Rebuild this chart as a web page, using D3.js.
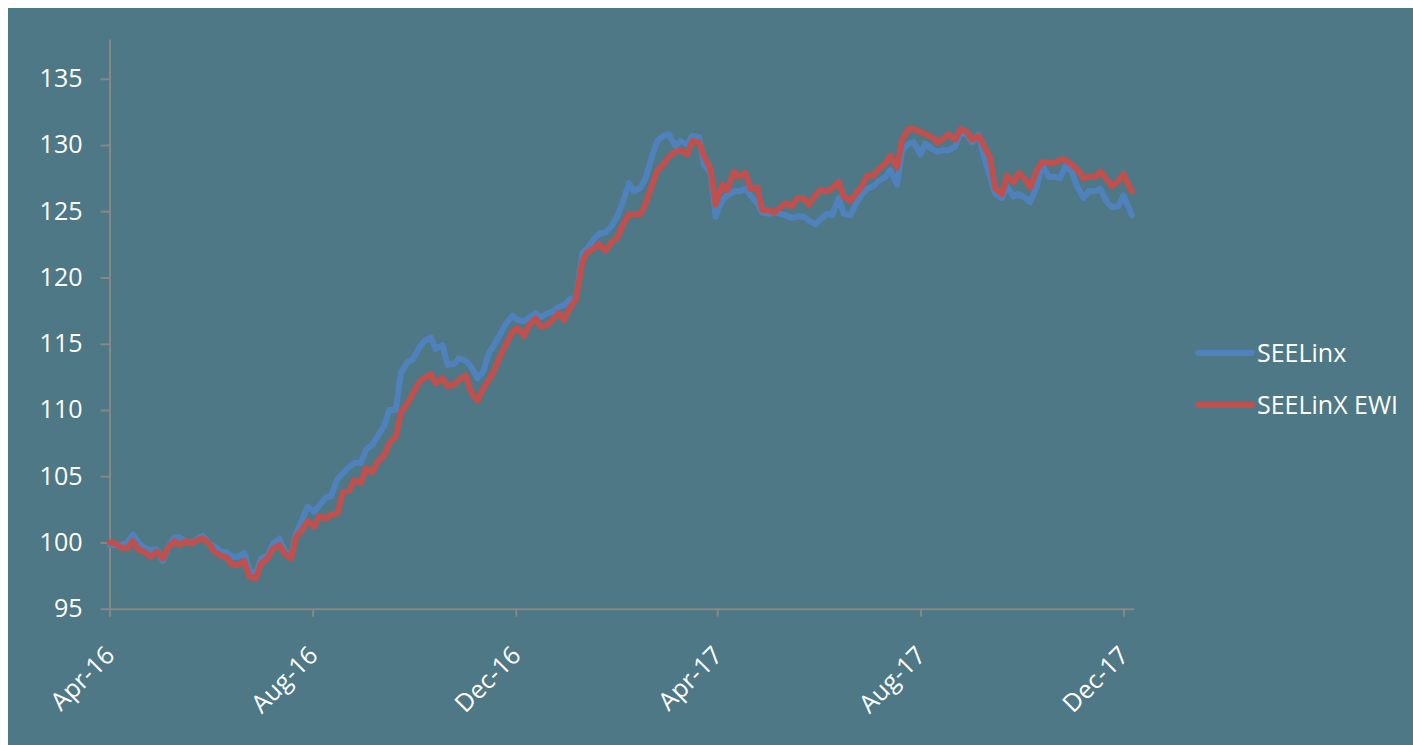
<!DOCTYPE html>
<html>
<head>
<meta charset="utf-8">
<script src="https://cdn.jsdelivr.net/npm/d3@7"></script>
<style>
  body { margin: 0; background: #ffffff; }
  svg { display: block; }
</style>
</head>
<body>
<div id="line_chart"></div>
<script>
//DATA (Tuesday / Friday closes)
var dates = ["2016-04-01",
  "2016-04-05", "2016-04-08", "2016-04-12", "2016-04-15", "2016-04-19", "2016-04-22", "2016-04-26", "2016-04-29",
  "2016-05-03", "2016-05-06", "2016-05-10", "2016-05-13", "2016-05-17", "2016-05-20", "2016-05-24", "2016-05-27",
  "2016-05-31", "2016-06-03", "2016-06-07", "2016-06-10", "2016-06-14", "2016-06-17", "2016-06-21", "2016-06-24",
  "2016-06-28", "2016-07-01", "2016-07-05", "2016-07-08", "2016-07-12", "2016-07-15", "2016-07-19", "2016-07-22",
  "2016-07-26", "2016-07-29", "2016-08-02", "2016-08-05", "2016-08-09", "2016-08-12", "2016-08-16", "2016-08-19",
  "2016-08-23", "2016-08-26", "2016-08-30", "2016-09-02", "2016-09-06", "2016-09-09", "2016-09-13", "2016-09-16",
  "2016-09-20", "2016-09-23", "2016-09-27", "2016-09-30", "2016-10-04", "2016-10-07", "2016-10-11", "2016-10-14",
  "2016-10-18", "2016-10-21", "2016-10-25", "2016-10-28", "2016-11-01", "2016-11-04", "2016-11-08", "2016-11-11",
  "2016-11-15", "2016-11-18", "2016-11-22", "2016-11-25", "2016-11-29", "2016-12-02", "2016-12-06", "2016-12-09",
  "2016-12-13", "2016-12-16", "2016-12-20", "2016-12-23", "2016-12-27", "2016-12-30", "2017-01-03", "2017-01-06",
  "2017-01-10", "2017-01-13", "2017-01-17", "2017-01-20", "2017-01-24", "2017-01-27", "2017-01-31", "2017-02-03",
  "2017-02-07", "2017-02-10", "2017-02-14", "2017-02-17", "2017-02-21", "2017-02-24", "2017-02-28", "2017-03-03",
  "2017-03-07", "2017-03-10", "2017-03-14", "2017-03-17", "2017-03-21", "2017-03-24", "2017-03-28", "2017-03-31",
  "2017-04-04", "2017-04-07", "2017-04-11", "2017-04-14", "2017-04-18", "2017-04-21", "2017-04-25", "2017-04-28",
  "2017-05-02", "2017-05-05", "2017-05-09", "2017-05-12", "2017-05-16", "2017-05-19", "2017-05-23", "2017-05-26",
  "2017-05-30", "2017-06-02", "2017-06-06", "2017-06-09", "2017-06-13", "2017-06-16", "2017-06-20", "2017-06-23",
  "2017-06-27", "2017-06-30", "2017-07-04", "2017-07-07", "2017-07-11", "2017-07-14", "2017-07-18", "2017-07-21",
  "2017-07-25", "2017-07-28", "2017-08-01", "2017-08-04", "2017-08-08", "2017-08-11", "2017-08-15", "2017-08-18",
  "2017-08-22", "2017-08-25", "2017-08-29", "2017-09-01", "2017-09-05", "2017-09-08", "2017-09-12", "2017-09-15",
  "2017-09-19", "2017-09-22", "2017-09-26", "2017-09-29", "2017-10-03", "2017-10-06", "2017-10-10", "2017-10-13",
  "2017-10-17", "2017-10-20", "2017-10-24", "2017-10-27", "2017-10-31", "2017-11-03", "2017-11-07", "2017-11-10",
  "2017-11-14", "2017-11-17", "2017-11-21", "2017-11-24", "2017-11-28", "2017-12-01", "2017-12-06"];

var seelinx = [99.8,
  99.8, 99.8, 100.0, 100.6, 99.9, 99.6, 99.4, 99.5,
  98.6, 99.6, 100.4, 100.4, 100.0, 100.0, 100.3, 100.5,
  99.9, 99.7, 99.3, 99.3, 98.9, 98.9, 99.2, 97.9,
  97.7, 98.8, 99.0, 99.9, 100.3, 99.4, 99.0, 100.7,
  101.8, 102.7, 102.3, 102.8, 103.4, 103.5, 104.8, 105.2,
  105.7, 106.0, 106.0, 107.0, 107.4, 108.0, 108.8, 110.0,
  110.0, 112.8, 113.6, 113.8, 114.7, 115.2, 115.5, 114.6,
  114.9, 113.4, 113.5, 113.9, 113.7, 113.3, 112.4, 112.8,
  114.3, 114.9, 115.8, 116.5, 117.1, 116.8, 116.7, 117.0,
  117.3, 117.0, 117.3, 117.4, 117.8, 117.9, 118.4, 118.4,
  121.8, 122.2, 122.9, 123.3, 123.4, 123.8, 124.6, 125.6,
  127.1, 126.5, 126.8, 127.5, 129.2, 130.3, 130.7, 130.8,
  129.9, 130.3, 130.0, 130.7, 130.6, 128.5, 127.9, 124.6,
  125.8, 126.2, 126.5, 126.5, 126.7, 126.2, 125.6, 124.9,
  124.8, 124.9, 124.8, 124.7, 124.5, 124.6, 124.6, 124.3,
  124.0, 124.4, 124.8, 124.7, 126.0, 124.8, 124.7, 125.5,
  126.3, 126.7, 126.9, 127.3, 127.6, 128.1, 127.0, 129.6,
  130.1, 130.2, 129.3, 130.1, 129.7, 129.5, 129.6, 129.6,
  129.9, 130.9, 130.8, 130.2, 130.8, 129.2, 127.5, 126.3,
  126.0, 126.9, 126.1, 126.3, 126.0, 125.7, 126.9, 128.6,
  127.6, 127.6, 127.5, 128.4, 128.0, 126.9, 126.0, 126.5,
  126.5, 126.7, 125.7, 125.3, 125.4, 126.2, 124.7];

var seelinxEwi = [100.0,
  99.9, 99.6, 99.6, 100.1, 99.4, 99.3, 98.9, 99.3,
  98.8, 99.6, 100.1, 99.8, 100.1, 99.9, 100.2, 100.3,
  99.9, 99.3, 99.0, 98.9, 98.3, 98.3, 98.6, 97.4,
  97.3, 98.4, 98.8, 99.5, 99.8, 99.2, 98.8, 100.4,
  101.0, 101.6, 101.2, 102.0, 101.8, 102.1, 102.2, 103.8,
  103.9, 104.7, 104.5, 105.6, 105.3, 106.1, 106.6, 107.5,
  108.0, 109.8, 110.5, 111.2, 112.1, 112.4, 112.7, 112.0,
  112.4, 111.8, 111.9, 112.3, 112.6, 111.4, 110.7, 111.5,
  112.3, 113.0, 114.2, 114.9, 115.9, 116.2, 115.6, 116.4,
  116.9, 116.3, 116.4, 116.8, 117.3, 116.8, 117.8, 118.3,
  121.2, 121.9, 122.2, 122.5, 122.0, 122.6, 123.0, 123.9,
  124.8, 124.8, 124.8, 125.6, 127.0, 128.1, 128.6, 129.1,
  129.5, 129.6, 129.3, 130.3, 130.2, 129.2, 128.2, 125.5,
  127.0, 126.6, 128.0, 127.6, 127.9, 126.7, 126.8, 125.1,
  125.1, 124.9, 125.3, 125.6, 125.4, 126.0, 126.0, 125.5,
  126.2, 126.6, 126.5, 126.7, 127.2, 126.1, 125.8, 126.3,
  126.9, 127.7, 127.7, 128.2, 128.6, 129.2, 128.3, 130.4,
  131.2, 131.2, 131.0, 130.8, 130.6, 130.2, 130.5, 130.8,
  130.4, 131.2, 131.0, 130.4, 130.7, 130.0, 129.0, 126.7,
  126.3, 127.7, 127.2, 127.9, 127.4, 126.8, 128.1, 128.7,
  128.7, 128.6, 128.9, 128.9, 128.5, 128.2, 127.5, 127.6,
  127.6, 128.0, 127.4, 126.9, 127.3, 127.8, 126.5];

var seriesNames = ["SEELinx", "SEELinX EWI"];
var xTickDates = ["2016-04-01", "2016-08-01", "2016-12-01", "2017-04-01", "2017-08-01", "2017-12-01"];
var yTicks = [95, 100, 105, 110, 115, 120, 125, 130, 135];

//SVG
var W = 1413, H = 745;
var svg = d3.select("#line_chart").append("svg")
  .attr("width", W)
  .attr("height", H);

svg.append("rect")
  .attr("x", 8).attr("y", 8)
  .attr("width", W - 8).attr("height", H - 8)
  .attr("fill", "#4e7885");

var FONT = "'Open Sans', 'DejaVu Sans', sans-serif";
var parse = d3.timeParse("%Y-%m-%d");
var fmt = d3.timeFormat("%b-%y");

//SCALES
var xScale = d3.scaleTime()
  .domain([parse("2016-04-01"), parse("2017-12-07")])
  .range([109.5, 1133.5]);

var yScale = d3.scaleLinear()
  .domain([95, 138])
  .range([608.7, 39]);

var colors = ["#4f81bd", "#c0504d"];
var series = [seelinx, seelinxEwi].map(function(vals, i) {
  return {
    name: seriesNames[i],
    color: colors[i],
    values: vals.map(function(v, j) { return {date: parse(dates[j]), value: v}; })
  };
});

//AXES
var yAxis = d3.axisLeft(yScale)
  .tickValues(yTicks)
  .tickSize(9)
  .tickSizeOuter(0)
  .tickPadding(18);

var xAxis = d3.axisBottom(xScale)
  .tickValues(xTickDates.map(parse))
  .tickFormat(fmt)
  .tickSize(8)
  .tickSizeOuter(0);

svg.append("g")
  .attr("class", "y_axis")
  .attr("transform", "translate(" + xScale.range()[0] + ",0)")
  .call(yAxis);

var gx = svg.append("g")
  .attr("class", "x_axis")
  .attr("transform", "translate(0," + yScale(95) + ")")
  .call(xAxis);

gx.selectAll("text")
  .attr("y", 0)
  .attr("x", 0)
  .attr("dy", ".35em")
  .attr("transform", "translate(0,42) rotate(-45)")
  .style("text-anchor", "end");

svg.selectAll(".y_axis, .x_axis")
  .attr("font-family", FONT)
  .attr("font-size", 25);
svg.selectAll(".y_axis path, .x_axis path, .y_axis line, .x_axis line")
  .attr("stroke", "#878787")
  .attr("stroke-width", 2);
svg.selectAll(".y_axis text, .x_axis text")
  .attr("fill", "#ffffff");

//LINES
var line = d3.line()
  .defined(function(d) { return d.value != null && d.date != null; })
  .x(function(d) { return xScale(d.date); })
  .y(function(d) { return yScale(d.value); });

svg.selectAll(".series")
  .data(series)
  .enter().append("path")
  .attr("class", "series")
  .attr("d", function(d) { return line(d.values); })
  .attr("fill", "none")
  .attr("stroke", function(d) { return d.color; })
  .attr("stroke-width", 6)
  .attr("stroke-linejoin", "round")
  .attr("stroke-linecap", "round");

//LEGEND
var legend = svg.selectAll(".legend")
  .data(series)
  .enter().append("g")
  .attr("class", "legend")
  .attr("transform", function(d, i) { return "translate(1198," + (353 + i * 52) + ")"; });

legend.append("line")
  .attr("x1", 0).attr("x2", 54)
  .attr("stroke", function(d) { return d.color; })
  .attr("stroke-width", 6)
  .attr("stroke-linecap", "round");

legend.append("text")
  .attr("x", 59)
  .attr("dy", ".35em")
  .attr("font-family", FONT)
  .attr("font-size", 25)
  .attr("fill", "#ffffff")
  .text(function(d) { return d.name; });
</script>
</body>
</html>
